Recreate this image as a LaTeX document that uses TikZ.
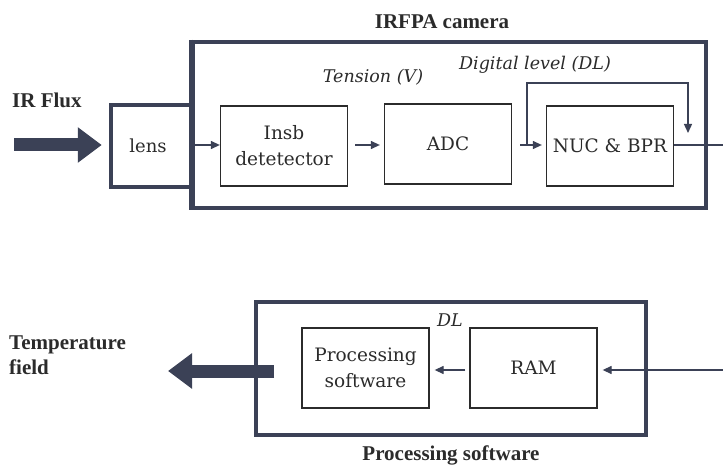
\documentclass[tikz,border=0pt]{standalone}
\usepackage{fontspec}
\setmainfont{DejaVu Serif}
\newfontfamily\boldfam{Liberation Serif}
\usetikzlibrary{arrows.meta}
\definecolor{frame}{HTML}{3B4156}
\definecolor{ink}{HTML}{2B2B2B}
\begin{document}
\begin{tikzpicture}[x=1pt,y=-1pt,
  outerbox/.style={draw=frame, line width=4.5pt, inner sep=0pt},
  blk/.style={draw=ink, line width=1.3pt, minimum width=127pt, minimum height=80pt,
    inner sep=0pt, align=center, text=ink, font=\fontsize{18.5}{26}\selectfont},
  lbl/.style={text=ink, inner sep=0pt, font=\fontsize{18}{25}\selectfont},
  boldlbl/.style={lbl, font=\boldfam\fontsize{21}{25}\selectfont\bfseries},
  itlbl/.style={lbl, font=\fontsize{17.5}{25}\selectfont\itshape},
  thin/.style={draw=frame, line width=1.3pt},
  tarrow/.style={thin, -{Triangle[length=9pt,width=8pt]}},
  bigarrow/.style={draw=frame, line width=13pt, -{Triangle[length=24pt,width=34pt]}}
]
\useasboundingbox[fill=white] (0,0) rectangle (723,468);

% ---------- IRFPA camera ----------
\node[outerbox, minimum width=513pt, minimum height=166pt] (cam) at (449.5,125) {};
\node[outerbox, fill=white, minimum width=82pt, minimum height=82pt] (lens) at (152,146) {};
\node[lbl] (lenst) at (148,146) {lens};
\draw[frame, line width=4.5pt] (cam.north west) -- (cam.south west);

\node[boldlbl] (camt) at (442,22) {IRFPA camera};
\node[boldlbl, anchor=west] (irflux) at (12,100) {IR Flux};

\node[blk] (insb) at (284,146) {Insb\\detetector};
\node[blk] (adc) at (448,144) {ADC};
\node[blk] (nuc) at (610,146) {NUC \& BPR};

\node[itlbl] (tension) at (373,77) {Tension (V)};
\node[itlbl] (dl1) at (535,65) {Digital level (DL)};

\coordinate (irs) at (14,145);
\draw[bigarrow, shorten >=7pt] (irs) -- (lens.west |- irs);

\draw[tarrow] (lens.east |- 0,145) -- (insb.west |- 0,145);
\draw[tarrow, shorten <=7pt, shorten >=4pt] (insb.east |- 0,145) -- (adc.west |- 0,145);
\draw[tarrow, shorten <=8pt, shorten >=4pt] (adc.east |- 0,145) -- (nuc.west |- 0,145);

\coordinate (fb) at (527,145);
\coordinate (fbend) at (688,133);
\draw[tarrow] (fb) |- (688,83) -- (fbend);

\coordinate (out1) at (723,145);
\draw[thin] (nuc.east |- out1) -- (out1);

% ---------- Processing software ----------
\node[outerbox, minimum width=390pt, minimum height=133pt] (proc) at (451,368.5) {};
\node[blk] (ps) at (365.5,368) {Processing\\software};
\node[blk] (ram) at (533.5,368) {RAM};
\node[itlbl] (dl2) at (450,320) {DL};
\node[boldlbl] (proct) at (451,455) {Processing software};
\node[boldlbl, anchor=west, align=left] (tf) at (9,355) {Temperature\\field};

\coordinate (in2) at (723,370);
\draw[tarrow, shorten >=5pt] (in2) -- (ram.east |- in2);
\draw[tarrow, shorten <=4pt, shorten >=5pt] (ram.west |- 0,370) -- (ps.east |- 0,370);

\coordinate (th2s) at (274,371);
\coordinate (th2e) at (168,371);
\draw[bigarrow] (th2s) -- (th2e);
\end{tikzpicture}
\end{document}
